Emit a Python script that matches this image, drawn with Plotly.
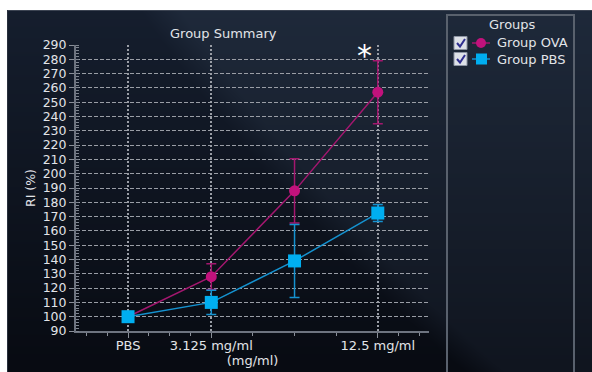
import base64
import struct
import zlib

import numpy as np
import plotly.graph_objects as go

# ---- data -------------------------------------------------------------
categories = ["PBS", "3.125 mg/ml", "6.25 mg/ml", "12.5 mg/ml"]
x_pos = [1, 2, 3, 4]
tick_vals = [1, 2, 4]
tick_text = ["PBS", "3.125 mg/ml", "12.5 mg/ml"]
minor_tick_vals = [0.5, 0.75, 1.25, 1.5, 1.75, 2.5, 3, 3.5, 4.25, 4.5]

ova_mean = [100, 128, 188, 257]
ova_err = [0, 9, 22.5, 22]
pbs_mean = [100, 110, 139, 172.5]
pbs_err = [0, 8.5, 25.5, 6]

y_ticks = list(range(90, 300, 10))

# ---- geometry (pixels) --------------------------------------------------
W, H = 592, 372
L, R, T, B = 76, 429, 45, 331


def px2x(p):
    return (p - L) / (R - L)


def py2y(p):
    return (B - p) / (B - T)


# ---- dark gradient backdrop built as a small PNG ------------------------
def png_uri(arr):
    h, w, _ = arr.shape
    raw = b"".join(b"\x00" + arr[i].tobytes() for i in range(h))

    def chunk(tag, data):
        c = struct.pack(">I", len(data)) + tag + data
        return c + struct.pack(">I", zlib.crc32(tag + data) & 0xFFFFFFFF)

    png = (b"\x89PNG\r\n\x1a\n"
           + chunk(b"IHDR", struct.pack(">IIBBBBB", w, h, 8, 2, 0, 0, 0))
           + chunk(b"IDAT", zlib.compress(raw, 9))
           + chunk(b"IEND", b""))
    return "data:image/png;base64," + base64.b64encode(png).decode()


BX0, BY0 = 7, 10
bw, bh = W - BX0, H - BY0
yy, xx = np.mgrid[0:bh, 0:bw].astype(float)
X = xx + BX0
Y = yy + BY0
t = np.clip(Y / H, 0, 1)[..., None]

dark_top = np.array([22, 31, 47.0])
dark_bot = np.array([8, 11, 18.0])
lite_top = np.array([31, 42, 59.0])
lite_bot = np.array([16, 21, 31.0])
dark = dark_top * (1 - t) + dark_bot * t
lite = lite_top * (1 - t) + lite_bot * t

# swoosh: lighter to the right of a curve sweeping down-right
edge_a = 140 + (Y - 10) * 0.68 + 0.0006 * (Y - 10) ** 2
ma = np.clip((X - edge_a) / 40.0, 0, 1)
# darker wedge along the lower right
edge_b = 300 + (X - 280) * 0.5
mb = np.clip((Y - edge_b) / 30.0, 0, 1)
m = (ma * (1 - 0.8 * mb))[..., None]
img = dark * (1 - m) + lite * m
img[0, :, :] = [60, 68, 82]
img[:, 0, :] = [40, 47, 60]
img = np.clip(img, 0, 255).astype(np.uint8)
bg_uri = png_uri(img)

# ---- figure -------------------------------------------------------------
FONT = "DejaVu Sans"
TXT = "#e2e4e8"
OVA_C = "#c2127c"
OVA_L = "#a3176f"
PBS_C = "#00aef0"
PBS_L = "#1592d0"

fig = go.Figure()

fig.add_trace(go.Scatter(
    x=x_pos, y=ova_mean, name="Group OVA", customdata=categories,
    mode="lines+markers",
    line=dict(color=OVA_L, width=1.5),
    marker=dict(symbol="circle", size=11, color=OVA_C),
    error_y=dict(type="data", array=ova_err, color=OVA_L, thickness=1.5, width=5),
    showlegend=False,
))
fig.add_trace(go.Scatter(
    x=x_pos, y=pbs_mean, name="Group PBS", customdata=categories,
    mode="lines+markers",
    line=dict(color=PBS_L, width=1.5),
    marker=dict(symbol="square", size=13, color=PBS_C),
    error_y=dict(type="data", array=pbs_err, color=PBS_L, thickness=1.5, width=5),
    showlegend=False,
))

fig.update_layout(
    width=W, height=H,
    margin=dict(l=L, r=W - R, t=T, b=H - B, pad=0, autoexpand=False),
    paper_bgcolor="white",
    plot_bgcolor="rgba(0,0,0,0)",
    font=dict(family=FONT, size=13, color=TXT),
    images=[dict(source=bg_uri, xref="paper", yref="paper",
                 x=px2x(BX0), y=py2y(BY0),
                 sizex=px2x(W) - px2x(BX0), sizey=py2y(BY0) - py2y(H),
                 xanchor="left", yanchor="top", sizing="stretch",
                 layer="below")],
)

fig.update_xaxes(
    automargin=False,
    range=[0.375, 4.615],
    tickmode="array", tickvals=tick_vals, ticktext=tick_text,
    ticks="outside", ticklen=5, tickcolor="#8a8f99", tickwidth=1,
    ticklabelstandoff=-4,
    tickfont=dict(family=FONT, size=13, color=TXT),
    showline=True, linecolor="#6e7480", linewidth=2,
    showgrid=True, gridcolor="#9a9ea6", gridwidth=2, griddash="2px,2px",
    zeroline=False,
    minor=dict(tickmode="array", tickvals=minor_tick_vals, ticks="outside",
               ticklen=3, tickcolor="#8a8f99", showgrid=False),
    title=dict(text="(mg/ml)", standoff=0,
               font=dict(family=FONT, size=13, color=TXT)),
)
fig.update_yaxes(
    automargin=False,
    range=[90, 290],
    tickmode="array", tickvals=y_ticks,
    ticks="outside", ticklen=5, tickcolor="#8a8f99", tickwidth=1,
    tickfont=dict(family=FONT, size=12.5, color=TXT),
    showline=True, linecolor="#6e7480", linewidth=2,
    showgrid=True, gridcolor="#9a9ea6", gridwidth=1, griddash="4px,2px",
    zeroline=False,
    minor=dict(dtick=2, ticks="inside", ticklen=3, tickcolor="#7f8590",
               showgrid=False),
    title=dict(text="RI (%)", standoff=4,
               font=dict(family=FONT, size=12.5, color=TXT)),
)

# chart title and significance mark
fig.add_annotation(text="Group Summary", xref="paper", yref="paper",
                   x=px2x(223), y=py2y(33), showarrow=False,
                   font=dict(family=FONT, size=13, color=TXT),
                   xanchor="center", yanchor="middle")
fig.add_annotation(text="*", xref="x", yref="paper",
                   x=x_pos[-1], y=py2y(51), xshift=-13, showarrow=False,
                   font=dict(family=FONT, size=30, color="white"),
                   xanchor="center", yanchor="middle", yshift=-5)

# ---- group panel (checkbox legend) --------------------------------------
shapes = [dict(type="rect", xref="paper", yref="paper",
               x0=px2x(447), x1=px2x(574), y0=py2y(H + 20), y1=py2y(15),
               line=dict(color="#59616d", width=2), fillcolor="rgba(0,0,0,0)")]
fig.add_annotation(text="Groups", xref="paper", yref="paper",
                   x=px2x(512), y=py2y(25), showarrow=False,
                   font=dict(family=FONT, size=13, color=TXT),
                   xanchor="center", yanchor="middle")

groups = [("Group OVA", OVA_C, OVA_L, "circle", 43),
          ("Group PBS", PBS_C, PBS_L, "square", 59)]
for label, mc, lc, sym, cy in groups:
    # checkbox
    shapes.append(dict(type="rect", xref="paper", yref="paper",
                       x0=px2x(454), x1=px2x(467), y0=py2y(cy + 6.5), y1=py2y(cy - 6.5),
                       line=dict(color="#8c94a3", width=1), fillcolor="#dde1e8"))
    shapes.append(dict(type="path", xref="paper", yref="paper",
                       path=(f"M {px2x(457)},{py2y(cy)} L {px2x(460)},{py2y(cy + 3.5)} "
                             f"L {px2x(465)},{py2y(cy - 4)}"),
                       line=dict(color="#2f2f8f", width=2)))
    # line + marker sample
    shapes.append(dict(type="line", xref="paper", yref="paper",
                       x0=px2x(472), x1=px2x(490), y0=py2y(cy), y1=py2y(cy),
                       line=dict(color=lc, width=1.5)))
    if sym == "circle":
        shapes.append(dict(type="circle", xref="paper", yref="paper",
                           x0=px2x(476), x1=px2x(486), y0=py2y(cy + 5), y1=py2y(cy - 5),
                           line=dict(width=0), fillcolor=mc))
    else:
        shapes.append(dict(type="rect", xref="paper", yref="paper",
                           x0=px2x(476), x1=px2x(487), y0=py2y(cy + 5.5), y1=py2y(cy - 5.5),
                           line=dict(width=0), fillcolor=mc))
    fig.add_annotation(text=label, xref="paper", yref="paper",
                       x=px2x(495), y=py2y(cy), showarrow=False,
                       font=dict(family=FONT, size=13, color=TXT),
                       xanchor="left", yanchor="middle")

fig.update_layout(shapes=shapes)

fig.write_html("out.html")
